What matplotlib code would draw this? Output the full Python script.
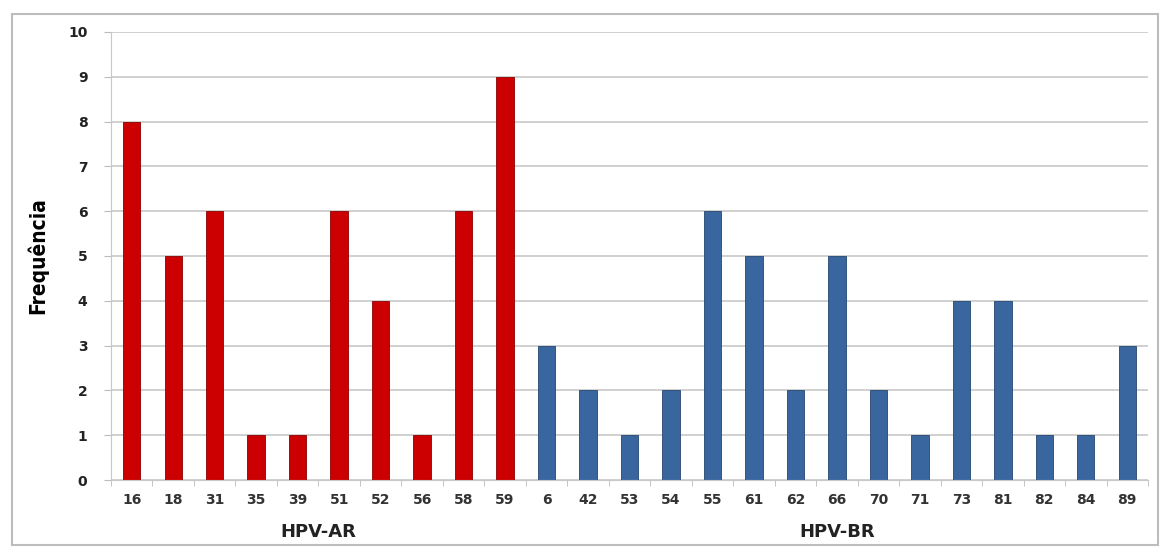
import matplotlib
matplotlib.use("Agg")
import matplotlib.pyplot as plt
from matplotlib.patches import Rectangle
import numpy as np

categories_ar = ["16", "18", "31", "35", "39", "51", "52", "56", "58", "59"]
values_ar = [8, 5, 6, 1, 1, 6, 4, 1, 6, 9]
categories_br = ["6", "42", "53", "54", "55", "61", "62", "66", "70", "71", "73", "81", "82", "84", "89"]
values_br = [3, 2, 1, 2, 6, 5, 2, 5, 2, 1, 4, 4, 1, 1, 3]
group_labels = ["HPV-AR", "HPV-BR"]
y_label = "Frequência"

W, H = 1162, 549
fig = plt.figure(figsize=(W / 100, H / 100), dpi=100)
fig.patch.set_facecolor("white")

# outer border
fig.patches.append(Rectangle((12 / W, 1 - 545 / H), (1158 - 12) / W, (545 - 14) / H,
                             transform=fig.transFigure, fill=False, edgecolor="#BDBDBD", lw=1.5))

ax = fig.add_axes([111 / W, 1 - 480 / H, (1148 - 111) / W, (480 - 32) / H])

labels = categories_ar + categories_br
n_ar = len(categories_ar)
x = np.arange(len(labels))
ax.bar(x[:n_ar], values_ar, width=0.42, color="#CC0000", edgecolor="#8B0000", lw=0.6)
ax.bar(x[n_ar:], values_br, width=0.42, color="#3A66A0", edgecolor="#24466F", lw=0.6)

ax.set_xlim(-0.5, len(labels) - 0.5)
ax.set_ylim(0, 10)
ax.set_yticks(range(0, 11))
ax.set_yticklabels([str(i) for i in range(0, 11)], fontsize=10, fontweight="bold", color="#222222",
                   family="DejaVu Sans")
ax.set_xticks(x)
ax.set_xticklabels(labels, fontsize=10, fontweight="bold", color="#333333", family="DejaVu Sans")
ax.set_xticks(np.arange(-0.5, len(labels)), minor=True)
ax.tick_params(axis="x", which="major", length=0, pad=9)
ax.tick_params(axis="x", which="minor", length=4, color="#BBBBBB")
ax.tick_params(axis="y", length=5, color="#BBBBBB", pad=12)
ax.yaxis.grid(True, color="#C8C8C8", lw=1.2)
ax.set_axisbelow(True)
for s in ["top", "right"]:
    ax.spines[s].set_visible(False)
ax.spines["left"].set_color("#C8C8C8")
ax.spines["bottom"].set_color("#C8C8C8")

ax.set_ylabel(y_label, fontsize=15, family="DejaVu Sans", fontstretch="condensed",
              fontweight="bold", labelpad=14)

ax.text((n_ar - 1) / 2, -0.116, group_labels[0], transform=ax.get_xaxis_transform(),
        ha="center", va="center", fontsize=13, fontweight="bold", color="#222222")
ax.text(n_ar + (len(categories_br) - 1) / 2, -0.116, group_labels[1], transform=ax.get_xaxis_transform(),
        ha="center", va="center", fontsize=13, fontweight="bold", color="#222222")

fig.savefig("out.png", dpi=100)
